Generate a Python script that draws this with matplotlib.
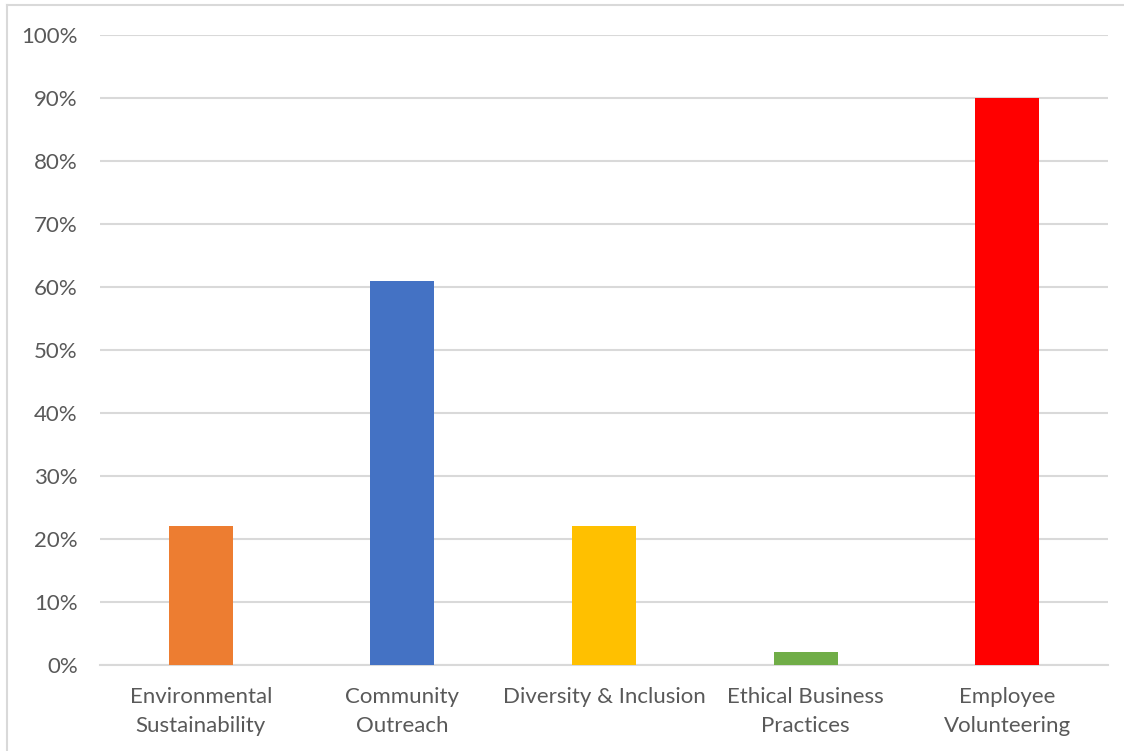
import matplotlib.pyplot as plt
from matplotlib.lines import Line2D
from matplotlib.ticker import PercentFormatter

categories = ['Environmental\nSustainability', 'Community\nOutreach',
              'Diversity & Inclusion', 'Ethical Business\nPractices',
              'Employee\nVolunteering']
values = [0.22, 0.61, 0.22, 0.02, 0.90]
colors = ['#ED7D31', '#4472C4', '#FFC000', '#70AD47', '#FF0000']
yticks = [0.0, 0.1, 0.2, 0.3, 0.4, 0.5, 0.6, 0.7, 0.8, 0.9, 1.0]

plt.rcParams['font.family'] = ['Lato', 'DejaVu Sans']

fig = plt.figure(figsize=(11.24, 7.51), dpi=100)
ax = fig.add_axes([100 / 1124, 1 - 665 / 751, 1008 / 1124, 630 / 751])

x = range(len(categories))
ax.bar(x, values, width=0.317, color=colors, zorder=3)

ax.set_xlim(-0.5, len(categories) - 0.5)
ax.set_ylim(0, 1)
ax.set_yticks(yticks)
ax.yaxis.set_major_formatter(PercentFormatter(1.0, decimals=0))
ax.set_xticks(list(x))
ax.set_xticklabels(categories, linespacing=1.55)
ax.grid(axis='y', color='#D9D9D9', linewidth=1.5, zorder=0)
ax.tick_params(axis='both', length=0, labelsize=16, colors='#595959')
ax.tick_params(axis='y', pad=16)
ax.tick_params(axis='x', pad=16)
for side in ['top', 'right', 'left']:
    ax.spines[side].set_visible(False)
ax.spines['bottom'].set_color('#D9D9D9')
ax.spines['bottom'].set_linewidth(1.5)

# chart frame (left and top edges visible in the crop)
fig.add_artist(Line2D([7 / 1124, 7 / 1124], [0, 1 - 5 / 751],
                      color='#D9D9D9', linewidth=1.5))
fig.add_artist(Line2D([7 / 1124, 1], [1 - 5 / 751, 1 - 5 / 751],
                      color='#D9D9D9', linewidth=1.5))

# cut-off title from the surrounding document
fig.text(118 / 1124, 1 + 4 / 751, '(Select all that apply)', ha='left',
         va='baseline', fontsize=15, fontstyle='italic', fontweight='bold',
         color='black')

fig.savefig('out.png', dpi=100)
